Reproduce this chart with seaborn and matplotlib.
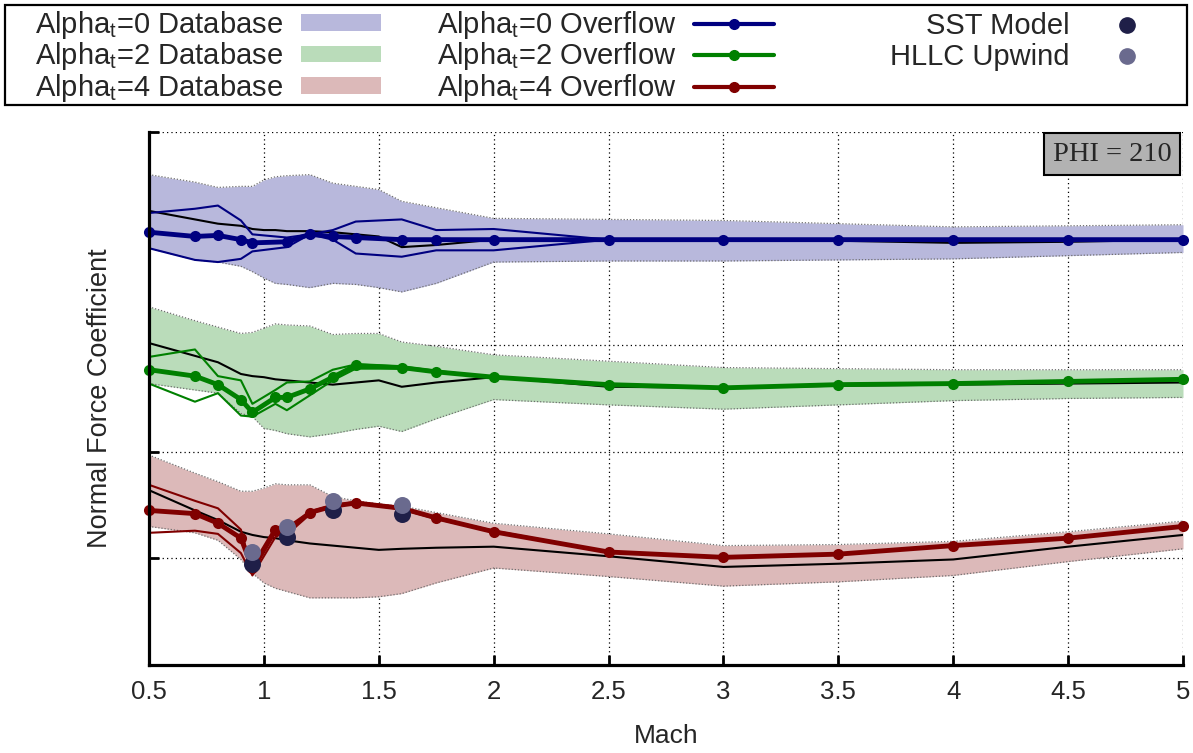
import numpy as np
import pandas as pd
import matplotlib
matplotlib.use("Agg")
import matplotlib.pyplot as plt
from matplotlib.patches import Patch, Rectangle
from matplotlib.lines import Line2D
import seaborn as sns

sns.set_theme(style="white")
plt.rcParams["font.family"] = ["Liberation Sans", "DejaVu Sans"]
plt.rcParams["mathtext.fontset"] = "custom"
plt.rcParams["mathtext.rm"] = "Liberation Sans"
plt.rcParams["mathtext.it"] = "Liberation Sans"
plt.rcParams["mathtext.default"] = "regular"

# ---------------------------------------------------------------- data
# Database Mach grid (band limits and database mean)
mach_db = [0.5, 0.7, 0.8, 0.9, 0.95, 1.0, 1.05, 1.1, 1.2, 1.3, 1.4, 1.5,
           1.6, 1.75, 2.0, 2.5, 3.0, 3.5, 4.0, 4.5, 5.0]

a0_db_hi = [4.60, 4.53, 4.48, 4.49, 4.49, 4.55, 4.58, 4.59, 4.60, 4.52, 4.49,
            4.46, 4.35, 4.29, 4.19, 4.18, 4.17, 4.14, 4.11, 4.12, 4.13]
a0_db_lo = [3.91, 3.80, 3.78, 3.74, 3.69, 3.63, 3.58, 3.57, 3.54, 3.58, 3.57,
            3.54, 3.50, 3.58, 3.78, 3.79, 3.79, 3.80, 3.81, 3.84, 3.87]
a0_db_mid = [4.26, 4.18, 4.14, 4.12, 4.09, 4.08, 4.08, 4.07, 4.07, 4.06, 4.04,
             4.02, 3.92, 3.94, 3.99, 3.99, 3.99, 3.98, 3.96, 3.97, 3.99]

a2_db_hi = [3.36, 3.23, 3.17, 3.11, 3.12, 3.16, 3.20, 3.19, 3.18, 3.10, 3.11,
            3.11, 3.03, 2.99, 2.91, 2.85, 2.79, 2.78, 2.77, 2.77, 2.77]
a2_db_lo = [2.64, 2.58, 2.55, 2.36, 2.33, 2.22, 2.20, 2.17, 2.14, 2.17, 2.21,
            2.24, 2.19, 2.31, 2.49, 2.44, 2.40, 2.44, 2.48, 2.50, 2.51]
a2_db_mid = [3.02, 2.90, 2.84, 2.73, 2.71, 2.70, 2.68, 2.67, 2.65, 2.63, 2.65,
             2.67, 2.61, 2.65, 2.70, 2.61, 2.60, 2.62, 2.63, 2.64, 2.65]

a4_db_hi = [1.97, 1.80, 1.72, 1.63, 1.63, 1.66, 1.70, 1.69, 1.69, 1.58, 1.54,
            1.51, 1.49, 1.43, 1.33, 1.23, 1.12, 1.13, 1.16, 1.25, 1.35]
a4_db_lo = [1.30, 1.24, 1.17, 0.99, 0.86, 0.77, 0.72, 0.69, 0.63, 0.63, 0.63,
            0.64, 0.67, 0.77, 0.91, 0.83, 0.74, 0.78, 0.84, 0.97, 1.09]
a4_db_mid = [1.64, 1.45, 1.36, 1.25, 1.22, 1.20, 1.19, 1.17, 1.14, 1.12, 1.10,
             1.08, 1.09, 1.10, 1.11, 1.02, 0.92, 0.95, 0.99, 1.11, 1.22]

# Overflow runs
mach_ovf0 = [0.5, 0.7, 0.8, 0.9, 0.95, 1.1, 1.2, 1.3, 1.4, 1.6, 1.75, 2.0,
             2.5, 3.0, 3.5, 4.0, 4.5, 5.0]
a0_ovf = [4.06, 4.02, 4.03, 3.99, 3.96, 3.97, 4.04, 4.02, 4.01, 3.99, 3.99,
          3.99, 3.99, 3.99, 3.99, 3.99, 3.99, 3.99]
a0_run_a = [4.24, 4.28, 4.31, 4.17, 4.04, 4.01, 4.04, 4.08, 4.16, 4.18, 4.08,
            4.09, 3.99, 3.99, 3.99, 3.99, 3.99, 3.99]
a0_run_b = [3.91, 3.80, 3.78, 3.81, 3.88, 3.92, 4.04, 3.99, 3.86, 3.83, 3.89,
            3.89, 3.99, 3.99, 3.99, 3.99, 3.99, 3.99]

mach_ovf = [0.5, 0.7, 0.8, 0.9, 0.95, 1.05, 1.1, 1.2, 1.3, 1.4, 1.6, 1.75,
            2.0, 2.5, 3.0, 3.5, 4.0, 4.5, 5.0]
a2_ovf = [2.77, 2.71, 2.63, 2.49, 2.37, 2.51, 2.51, 2.59, 2.70, 2.81, 2.79,
          2.75, 2.70, 2.63, 2.60, 2.63, 2.64, 2.66, 2.68]
a2_run_a = [2.89, 2.96, 2.71, 2.67, 2.45, 2.58, 2.65, 2.66, 2.77, 2.82, 2.80,
            2.76, 2.70, 2.63, 2.60, 2.63, 2.64, 2.66, 2.68]
a2_run_b = [2.64, 2.47, 2.55, 2.34, 2.33, 2.45, 2.39, 2.53, 2.67, 2.78, 2.78,
            2.75, 2.70, 2.63, 2.60, 2.63, 2.64, 2.66, 2.68]

a4_ovf = [1.45, 1.42, 1.33, 1.19, 0.91, 1.27, 1.24, 1.43, 1.49, 1.52, 1.47,
          1.38, 1.25, 1.06, 1.01, 1.04, 1.12, 1.19, 1.30]
a4_run_a = [1.69, 1.54, 1.47, 1.27, 0.87, 1.24, 1.29, 1.44, 1.50, 1.53, 1.48,
            1.38, 1.26, 1.06, 1.01, 1.04, 1.12, 1.19, 1.30]
a4_run_b = [1.24, 1.26, 1.23, 1.05, 0.84, 1.20, 1.26, 1.42, 1.49, 1.52, 1.46,
            1.37, 1.25, 1.06, 1.01, 1.04, 1.12, 1.19, 1.30]

# Turbulence-model / flux-scheme check points at Alpha_t = 4
mach_chk = [0.95, 1.1, 1.3, 1.6]
sst_model = [0.95, 1.20, 1.45, 1.42]
hllc_upwind = [1.06, 1.29, 1.54, 1.50]

xticks = [0.5, 1, 1.5, 2, 2.5, 3, 3.5, 4, 4.5, 5]
xtick_labels = ["0.5", "1", "1.5", "2", "2.5", "3", "3.5", "4", "4.5", "5"]
yticks = [0, 1, 2, 3, 4, 5]

series_names = ["Alpha$_t$=0", "Alpha$_t$=2", "Alpha$_t$=4"]
line_colors = ["#000080", "#008000", "#800000"]
fill_colors = ["#b8b8dc", "#badcba", "#dcb9b9"]
sst_color = "#1f1f48"
hllc_color = "#6a6a8e"

# ---------------------------------------------------------------- figure
W, H = 1193, 753
fig = plt.figure(figsize=(W / 100, H / 100), dpi=100)
ax = fig.add_axes([149 / W, 1 - 665 / H, (1183 - 149) / W, (665 - 132) / H])

db = [(a0_db_lo, a0_db_hi, a0_db_mid), (a2_db_lo, a2_db_hi, a2_db_mid),
      (a4_db_lo, a4_db_hi, a4_db_mid)]
runs = [(mach_ovf0, a0_ovf, a0_run_a, a0_run_b),
        (mach_ovf, a2_ovf, a2_run_a, a2_run_b),
        (mach_ovf, a4_ovf, a4_run_a, a4_run_b)]

# database bands
for (lo, hi, mid), fc in zip(db, fill_colors):
    ax.fill_between(mach_db, lo, hi, color=fc, lw=0, zorder=1)
    for edge in (lo, hi):
        ax.plot(mach_db, edge, color="#707070", lw=0.9, ls=(0, (1, 1.5)), zorder=1.5)

# database mean lines
for lo, hi, mid in db:
    sns.lineplot(x=mach_db, y=mid, ax=ax, color="black", lw=1.5,
                 estimator=None, sort=False, zorder=3)

# overflow runs
for (m, main, ra, rb), c in zip(runs, line_colors):
    for r in (ra, rb):
        sns.lineplot(x=m, y=r, ax=ax, color=c, lw=1.5, estimator=None,
                     sort=False, zorder=3.5)
    sns.lineplot(x=m, y=main, ax=ax, color=c, lw=3.5, marker="o",
                 markersize=8, markeredgewidth=0, estimator=None, sort=False,
                 zorder=4, clip_on=False)

# check points
sns.scatterplot(x=mach_chk, y=sst_model, ax=ax, color=sst_color, s=150,
                linewidth=0, zorder=5)
sns.scatterplot(x=mach_chk, y=hllc_upwind, ax=ax, color=hllc_color, s=150,
                linewidth=0, zorder=5.5)

# axes styling
ax.set_xlim(0.5, 5)
ax.set_ylim(0, 5)
ax.set_xticks(xticks)
ax.set_xticklabels(xtick_labels)
ax.set_yticks(yticks)
ax.set_yticklabels([])
ax.grid(True, color="black", lw=0.9, ls=(0, (1, 2.5)))
ax.set_axisbelow(True)
for s in ("top", "right"):
    ax.spines[s].set_visible(False)
for s in ("left", "bottom"):
    ax.spines[s].set_linewidth(2.3)
    ax.spines[s].set_color("black")
    ax.spines[s].set_zorder(6)
ax.tick_params(direction="in", length=7, width=2, color="black",
               labelsize=18.5, pad=11, left=True, bottom=True)
ax.set_xlabel("Mach", fontsize=19, labelpad=14)
ax.set_ylabel("Normal Force Coefficient", fontsize=19.5, labelpad=15)

ax.text(0.9889, 0.982, "PHI = 210", transform=ax.transAxes, ha="right",
        va="top", fontsize=20.5, family=["Liberation Serif", "DejaVu Serif"],
        bbox=dict(boxstyle="square,pad=0.3", fc="#b2b2b2", ec="black", lw=1.5),
        zorder=7)

# legend: three right-aligned columns inside one frame
leg_kw = dict(frameon=False, markerfirst=False, fontsize=21, handlelength=2.75,
              handletextpad=0.6, borderpad=0, borderaxespad=0,
              loc="upper right", handleheight=0.5)
col1 = [Patch(facecolor=fc, edgecolor="none") for fc in fill_colors]
fig.legend(col1, [f"{n} Database" for n in series_names],
           bbox_to_anchor=(381 / W, 1 - 9 / H), labelspacing=-0.02, **leg_kw)
col2 = [Line2D([], [], color=c, lw=3, marker="o", markersize=7) for c in line_colors]
fig.legend(col2, [f"{n} Overflow" for n in series_names],
           bbox_to_anchor=(774 / W, 1 - 9 / H), labelspacing=-0.02, **leg_kw)
col3 = [Line2D([], [], ls="none", marker="o", markersize=11, color=sst_color),
        Line2D([], [], ls="none", marker="o", markersize=11, color=hllc_color)]
fig.legend(col3, ["SST Model", "HLLC Upwind"],
           bbox_to_anchor=(1167 / W, 1 - 12 / H), labelspacing=0.1, **leg_kw)
fig.add_artist(Rectangle((5 / W, 1 - 105 / H), 1182 / W, 100 / H,
                         transform=fig.transFigure, fill=False, ec="black",
                         lw=1.6))

fig.savefig("out.png", dpi=100)
